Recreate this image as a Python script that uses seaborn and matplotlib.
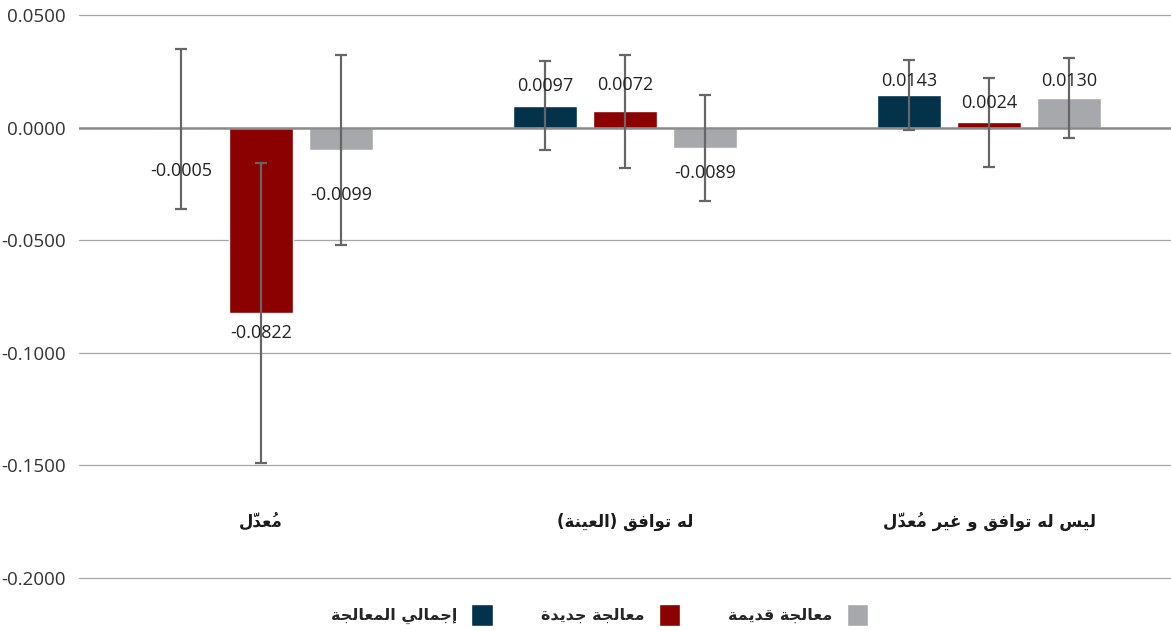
import matplotlib
matplotlib.use("Agg")
import matplotlib.pyplot as plt
import pandas as pd
import seaborn as sns

# Data
CATEGORIES = ["مُعدّل", "له توافق (العينة)", "ليس له توافق و غير مُعدّل"]
SERIES = ["إجمالي المعالجة", "معالجة جديدة", "معالجة قديمة"]
TOTAL = [-0.0005, 0.0097, 0.0143]
NEW = [-0.0822, 0.0072, 0.0024]
OLD = [-0.0099, -0.0089, 0.0130]
TOTAL_ERR = [0.0355, 0.0197, 0.0155]
NEW_ERR = [0.0666, 0.0250, 0.0198]
OLD_ERR = [0.0422, 0.0235, 0.0177]
Y_TICKS = [0.05, 0.0, -0.05, -0.10, -0.15, -0.20]

COLORS = ["#04324b", "#8b0000", "#a7a8ab"]
# vertical offset (px) of each value label from the bar end
LABEL_PAD = [[-42, 20, 14], [-20, 26, 19], [-45, -25, 17]]

# matplotlib has no Arabic shaping: map letters to presentation forms and
# lay them out right-to-left by hand
ARABIC_FORMS = {
    "ا": ("\ufe8d", "\ufe8e"),
    "إ": ("\ufe87", "\ufe88"),
    "ة": ("\ufe93", "\ufe94"),
    "د": ("\ufea9", "\ufeaa"),
    "ر": ("\ufead", "\ufeae"),
    "و": ("\ufeed", "\ufeee"),
    "ت": ("\ufe95", "\ufe96", "\ufe97", "\ufe98"),
    "ج": ("\ufe9d", "\ufe9e", "\ufe9f", "\ufea0"),
    "س": ("\ufeb1", "\ufeb2", "\ufeb3", "\ufeb4"),
    "ع": ("\ufec9", "\ufeca", "\ufecb", "\ufecc"),
    "غ": ("\ufecd", "\ufece", "\ufecf", "\ufed0"),
    "ف": ("\ufed1", "\ufed2", "\ufed3", "\ufed4"),
    "ق": ("\ufed5", "\ufed6", "\ufed7", "\ufed8"),
    "ل": ("\ufedd", "\ufede", "\ufedf", "\ufee0"),
    "م": ("\ufee1", "\ufee2", "\ufee3", "\ufee4"),
    "ن": ("\ufee5", "\ufee6", "\ufee7", "\ufee8"),
    "ه": ("\ufee9", "\ufeea", "\ufeeb", "\ufeec"),
    "ي": ("\ufef1", "\ufef2", "\ufef3", "\ufef4"),
}
MARKS = {"\u064f", "\u0651"}


def shape_arabic(text):
    chars = list(text)
    letters = [i for i, c in enumerate(chars) if c not in MARKS]
    out = chars[:]
    for k, i in enumerate(letters):
        c = chars[i]
        if c not in ARABIC_FORMS:
            continue
        forms = ARABIC_FORMS[c]
        prev_c = chars[letters[k - 1]] if k > 0 else None
        next_c = chars[letters[k + 1]] if k + 1 < len(letters) else None
        join_prev = prev_c in ARABIC_FORMS and len(ARABIC_FORMS[prev_c]) == 4
        join_next = len(forms) == 4 and next_c in ARABIC_FORMS
        if join_prev and join_next:
            out[i] = forms[3]
        elif join_prev:
            out[i] = forms[1]
        elif join_next:
            out[i] = forms[2]
        else:
            out[i] = forms[0]
    # full reversal: zero-width marks then come just before their base and draw over it
    mirror = {"(": ")", ")": "("}
    return "".join(mirror.get(c, c) for c in reversed(out))


df = pd.DataFrame({
    "category": CATEGORIES * 3,
    "series": [s for s in SERIES for _ in CATEGORIES],
    "value": TOTAL + NEW + OLD,
})
errors = [TOTAL_ERR, NEW_ERR, OLD_ERR]
values = [TOTAL, NEW, OLD]

sns.set_style("white")
plt.rcParams["font.family"] = ["Open Sans", "DejaVu Sans"]

fig = plt.figure(figsize=(11.71, 6.31), dpi=100)
ax = fig.add_axes([0.0675, 0.0804, 0.9325, 0.8994])

sns.barplot(
    data=df, x="category", y="value", hue="series",
    order=CATEGORIES, hue_order=SERIES, palette=COLORS,
    width=0.66, gap=0.2, errorbar=None, saturation=1,
    legend=True, ax=ax, zorder=2,
)
handles, _ = ax.get_legend_handles_labels()
ax.get_legend().remove()

# error bars and value labels
bar_containers = list(ax.containers)
for s, container in enumerate(bar_containers):
    xs = [b.get_x() + b.get_width() / 2 for b in container]
    ax.errorbar(xs, values[s], yerr=errors[s], fmt="none", ecolor="#666666",
                elinewidth=1.6, capsize=4, capthick=1.6, zorder=5)
    for j, x in enumerate(xs):
        ax.annotate(f"{values[s][j]:.4f}", (x, values[s][j]),
                    xytext=(0, LABEL_PAD[s][j] * 0.72), textcoords="offset points",
                    ha="center", va="center", fontsize=13, color="#222222", zorder=6)

# category labels sit inside the plot area
for i, cat in enumerate(CATEGORIES):
    ax.text(i, -0.175, shape_arabic(cat), ha="center", va="center",
            fontsize=12, fontweight="bold", family=["DejaVu Sans"], color="#1a1a1a")

ax.axhline(0, color="#8c8c8c", lw=1.8, zorder=3)
ax.set_xlim(-0.5, 2.5)
ax.set_ylim(-0.201, 0.051)
ax.set_yticks(Y_TICKS)
ax.set_yticklabels([f"{t:.4f}" for t in Y_TICKS])
ax.yaxis.grid(True, color="#a6a6a6", lw=0.9)
ax.set_axisbelow(True)
ax.tick_params(axis="y", left=False, labelsize=13.5, pad=6, labelcolor="#333333")
ax.tick_params(axis="x", bottom=False, labelbottom=False)
ax.set_xlabel("")
ax.set_ylabel("")
sns.despine(ax=ax, left=True, bottom=True)

fig.legend(handles, [shape_arabic(s) for s in SERIES], ncol=3, markerfirst=False,
           frameon=False, loc="center", bbox_to_anchor=(0.512, 0.026),
           prop={"family": "DejaVu Sans", "weight": "bold", "size": 11.5},
           handlelength=1.35, handleheight=1.75, handletextpad=0.9, columnspacing=3.0)

fig.savefig("out.png", dpi=100, facecolor="white")
plt.close(fig)
